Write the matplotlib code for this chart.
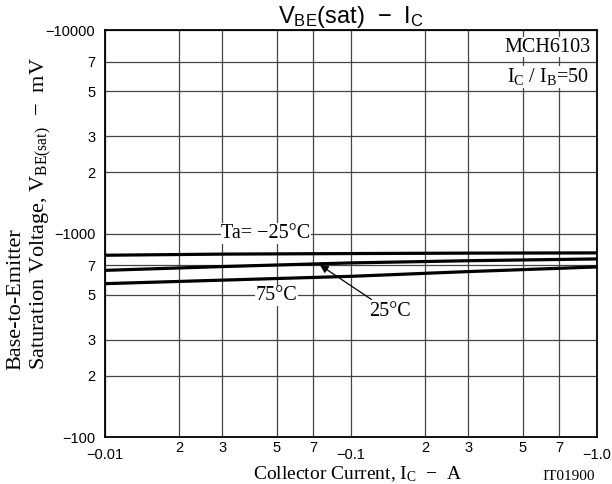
import matplotlib
matplotlib.use("Agg")
import matplotlib.pyplot as plt
from matplotlib.ticker import FixedLocator

# collector current, A (magnitudes)
ic = [0.01, 0.03, 0.1, 0.3, 1.0]
# VBE(sat), mV (magnitudes)
vbe_m25 = [782, 792, 797, 801, 803]
vbe_25 = [659, 688, 717, 735, 750]
vbe_75 = [567, 590, 616, 650, 685]

x_major = [0.01, 0.1, 1.0]
x_major_labels = ["\u22120.01", "\u22120.1", "\u22121.0"]
x_minor = [0.02, 0.03, 0.05, 0.07, 0.2, 0.3, 0.5, 0.7]
x_minor_labels = ["2", "3", "5", "7", "2", "3", "5", "7"]
y_major = [100, 1000, 10000]
y_major_labels = ["\u2212100", "\u22121000", "\u221210000"]
y_minor = [200, 300, 500, 700, 2000, 3000, 5000, 7000]
y_minor_labels = ["2", "3", "5", "7", "2", "3", "5", "7"]

sans = "Liberation Sans"
serif = "Liberation Serif"
M = "\u2212"

fig = plt.figure(figsize=(6.12, 4.84), dpi=100)
ax = fig.add_axes([0.1716, 0.0971, 0.8039, 0.8409])
ax.set_xscale("log")
ax.set_yscale("log")
ax.set_xlim(0.01, 1.0)
ax.set_ylim(100, 10000)

ax.xaxis.set_major_locator(FixedLocator(x_major))
ax.xaxis.set_minor_locator(FixedLocator(x_minor))
ax.yaxis.set_major_locator(FixedLocator(y_major))
ax.yaxis.set_minor_locator(FixedLocator(y_minor))
ax.set_xticklabels(x_major_labels, fontfamily=sans, fontsize=10.5)
ax.set_xticklabels(x_minor_labels, minor=True, fontfamily=sans, fontsize=10.5)
ax.set_yticklabels(y_major_labels, fontfamily=sans, fontsize=10.5)
ax.set_yticklabels(y_minor_labels, minor=True, fontfamily=sans, fontsize=10.5)
ax.tick_params(which="both", length=0)
ax.tick_params(axis="x", which="major", pad=8)
ax.tick_params(axis="x", which="minor", pad=3)
ax.tick_params(axis="y", which="both", pad=7)

ax.grid(True, which="both", color="#444444", linewidth=0.9)
for s in ax.spines.values():
    s.set_linewidth(1.3)
    s.set_zorder(5)

for v in (vbe_m25, vbe_25, vbe_75):
    ax.plot(ic, v, color="black", linewidth=2.3, solid_capstyle="butt", zorder=4)

box = dict(facecolor="white", edgecolor="none", pad=0.5)
ax.text(0.0451, 1000, "Ta= " + M + "25\u00b0C", fontfamily=serif, fontsize=14.5,
        ha="center", va="center", bbox=box, zorder=3)
ax.text(0.050, 495, "75\u00b0C", fontfamily=serif, fontsize=14.5,
        ha="center", va="center", bbox=box, zorder=3)
ax.annotate("25\u00b0C", xy=(0.0748, 700), xytext=(0.144, 412),
            fontfamily=serif, fontsize=14.5, ha="center", va="center",
            bbox=box, zorder=6,
            arrowprops=dict(arrowstyle="-|>", color="black", lw=0.9,
                            mutation_scale=12, shrinkA=3, shrinkB=0))

ax.text(0.90, 0.958, "MCH6103", transform=ax.transAxes, fontfamily=serif,
        fontsize=14.5, ha="center", va="center", bbox=box, zorder=6)
ax.text(0.90, 0.885, r"$\mathregular{I_C}$ / $\mathregular{I_B}$=50",
        transform=ax.transAxes, fontfamily=serif, fontsize=14.5,
        ha="center", va="center", bbox=box, zorder=6)

ax.set_title(r"$\mathregular{V_{BE}}$(sat)  " + M + r"  $\mathregular{I_C}$",
             fontfamily=sans, fontsize=17, pad=1)
fig.text(358 / 612, 1 - 474 / 484,
         r"Collector Current, $\mathregular{I_C}$  " + M + "  A",
         fontfamily=serif, fontsize=14, ha="center", va="center")
fig.text(30 / 612, 1 - 214 / 484,
         "Base-to-Emitter\n" +
         r"Saturation Voltage, $\mathregular{V_{BE(sat)}}$  " + M + "  mV",
         fontfamily=serif, fontsize=16, rotation=90, ha="center", va="center",
         multialignment="left", linespacing=1.2)
fig.text(595 / 612, 1 - 476 / 484, "IT01900", fontfamily=serif, fontsize=11,
         ha="right", va="center")

fig.savefig("out.png", dpi=100)
